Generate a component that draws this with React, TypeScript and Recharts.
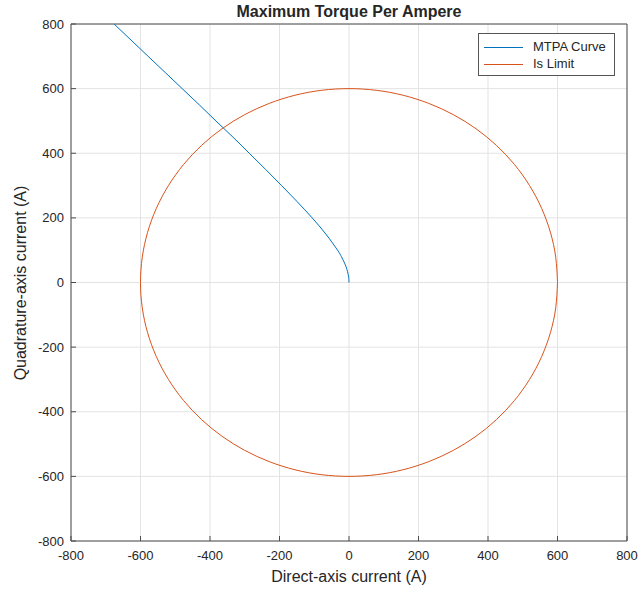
import React from 'react';
import { ScatterChart, Scatter, XAxis, YAxis, CartesianGrid } from 'recharts';

const AXIS_TICKS = [-800, -600, -400, -200, 0, 200, 400, 600, 800];

// MTPA trajectory, q-axis current vs d-axis current (A)
const MTPA_IQ = [0, 10, 20, 40, 60, 80, 100, 150, 200, 250, 300, 350, 400, 450, 500, 550, 600, 650, 700, 750, 800];
const MTPA_ID = [0, -0.4, -1.5, -5.8, -12.7, -21.9, -32.9, -66.7, -106, -149, -194, -240, -287, -334, -383, -431, -480, -529, -578, -627, -676];

// current limit circle, |Is| = 600 A
const IS_ID = [
  600, 594.9, 579.6, 554.3, 519.6, 476.0, 424.3, 365.3, 300, 229.6, 155.3, 78.3, 0,
  -78.3, -155.3, -229.6, -300, -365.3, -424.3, -476.0, -519.6, -554.3, -579.6, -594.9, -600,
  -594.9, -579.6, -554.3, -519.6, -476.0, -424.3, -365.3, -300, -229.6, -155.3, -78.3, 0,
  78.3, 155.3, 229.6, 300, 365.3, 424.3, 476.0, 519.6, 554.3, 579.6, 594.9, 600,
];
const IS_IQ = [
  0, 78.3, 155.3, 229.6, 300, 365.3, 424.3, 476.0, 519.6, 554.3, 579.6, 594.9, 600,
  594.9, 579.6, 554.3, 519.6, 476.0, 424.3, 365.3, 300, 229.6, 155.3, 78.3, 0,
  -78.3, -155.3, -229.6, -300, -365.3, -424.3, -476.0, -519.6, -554.3, -579.6, -594.9, -600,
  -594.9, -579.6, -554.3, -519.6, -476.0, -424.3, -365.3, -300, -229.6, -155.3, -78.3, 0,
];

const mtpaData = MTPA_ID.map((id, i) => ({ id, iq: MTPA_IQ[i] }));
const isData = IS_ID.map((id, i) => ({ id, iq: IS_IQ[i] }));

const FONT = '"Liberation Sans", Arial, Helvetica, sans-serif';
const AXIS_COLOR = '#4d4d4d';
const TEXT_COLOR = '#262626';
const BLUE = '#0072BD';
const ORANGE = '#D95319';

const noMarker = () => <g />;

export default function App() {
  return (
    <div
      style={{
        position: 'absolute',
        left: 0,
        top: 0,
        width: 639,
        height: 590,
        background: '#fff',
        fontFamily: FONT,
        color: TEXT_COLOR,
      }}
    >
      <ScatterChart
        width={639}
        height={590}
        margin={{ top: 0, right: 0, bottom: 0, left: 0 }}
        style={{ fontFamily: FONT }}
      >
        <CartesianGrid stroke="#e3e3e3" />
        <XAxis
          type="number"
          dataKey="id"
          domain={[-800, 800]}
          ticks={AXIS_TICKS}
          allowDataOverflow
          interval={0}
          height={49}
          tickSize={-5}
          tickMargin={15}
          stroke={AXIS_COLOR}
          tick={{ fill: TEXT_COLOR, fontSize: 13 }}
        />
        <XAxis
          xAxisId="top"
          orientation="top"
          type="number"
          domain={[-800, 800]}
          ticks={AXIS_TICKS}
          allowDataOverflow
          interval={0}
          height={24}
          tickSize={-5}
          tick={false}
          stroke={AXIS_COLOR}
        />
        <YAxis
          type="number"
          dataKey="iq"
          domain={[-800, 800]}
          ticks={AXIS_TICKS}
          allowDataOverflow
          interval={0}
          width={71}
          tickSize={-5}
          tickMargin={12}
          stroke={AXIS_COLOR}
          tick={{ fill: TEXT_COLOR, fontSize: 13 }}
        />
        <YAxis
          yAxisId="right"
          orientation="right"
          type="number"
          domain={[-800, 800]}
          ticks={AXIS_TICKS}
          allowDataOverflow
          interval={0}
          width={12}
          tickSize={-5}
          tick={false}
          stroke={AXIS_COLOR}
        />
        <Scatter
          name="MTPA Curve"
          data={mtpaData}
          line={{ stroke: BLUE, strokeWidth: 1 }}
          lineJointType="natural"
          shape={noMarker}
          fill={BLUE}
          isAnimationActive={false}
        />
        <Scatter
          name="Is Limit"
          data={isData}
          line={{ stroke: ORANGE, strokeWidth: 1 }}
          lineJointType="natural"
          shape={noMarker}
          fill={ORANGE}
          isAnimationActive={false}
        />
      </ScatterChart>

      <div
        style={{
          position: 'absolute',
          left: 71,
          top: 4,
          width: 556,
          textAlign: 'center',
          fontWeight: 'bold',
          fontSize: 16,
          lineHeight: '16px',
        }}
      >
        Maximum Torque Per Ampere
      </div>
      <div
        style={{
          position: 'absolute',
          left: 71,
          top: 569,
          width: 556,
          textAlign: 'center',
          fontSize: 16,
          lineHeight: '16px',
        }}
      >
        Direct-axis current (A)
      </div>
      <div
        style={{
          position: 'absolute',
          left: 21,
          top: 283,
          transform: 'translate(-50%, -50%) rotate(-90deg)',
          whiteSpace: 'nowrap',
          fontSize: 16,
          lineHeight: '16px',
        }}
      >
        Quadrature-axis current (A)
      </div>

      {/* legend box, top right inside the axes */}
      <div
        style={{
          position: 'absolute',
          left: 478,
          top: 33,
          width: 137,
          height: 43,
          boxSizing: 'border-box',
          border: '1px solid #555',
          background: '#fff',
          fontSize: 13,
        }}
      >
        {[
          { label: 'MTPA Curve', color: BLUE },
          { label: 'Is Limit', color: ORANGE },
        ].map((item, i) => (
          <div
            key={item.label}
            style={{
              position: 'absolute',
              left: 5,
              top: 6 + i * 17,
              height: 14,
              display: 'flex',
              alignItems: 'center',
              whiteSpace: 'nowrap',
            }}
          >
            <span style={{ display: 'inline-block', width: 39, height: 1, background: item.color }} />
            <span style={{ marginLeft: 10, lineHeight: '14px' }}>{item.label}</span>
          </div>
        ))}
      </div>
    </div>
  );
}
